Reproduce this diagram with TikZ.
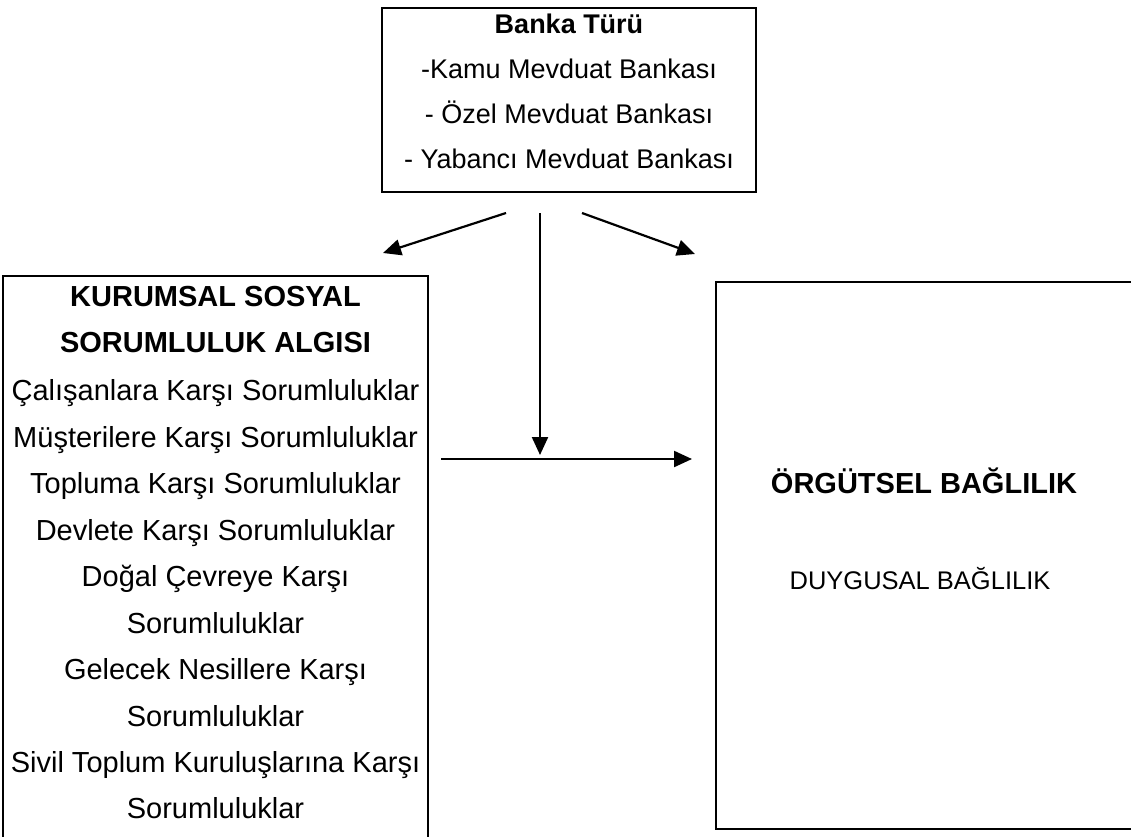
\documentclass[tikz,border=0pt]{standalone}
\usepackage{fontspec}
\setmainfont{Liberation Sans}
\usetikzlibrary{arrows.meta}
\tikzset{
  frame/.style={draw=black, line width=2.4pt, fill=none, inner sep=0pt},
  txt/.style={anchor=base, inner sep=0pt},
  boxA/.style={txt, font=\fontsize{27}{32}\selectfont},
  boxB/.style={txt, font=\fontsize{29}{34}\selectfont},
  link/.style={line width=2.2pt, -{Triangle[length=18pt,width=16pt]}},
}
\begin{document}
\begin{tikzpicture}[x=1pt,y=-1pt]
\useasboundingbox (0,0) rectangle (1131,836);

% boxes
\node[frame, minimum width=374pt, minimum height=184pt] (bank) at (569,100) {};
\node[frame, minimum width=425pt, minimum height=580pt] (ksr) at (215.5,566) {};
\node[frame, minimum width=420pt, minimum height=547pt] (org) at (926,555.5) {};

% bank type box
\node[boxA, font=\bfseries\fontsize{27}{32}\selectfont] (b0) at (569,33) {Banka Türü};
\node[boxA] (b1) at (569,78) {-Kamu Mevduat Bankası};
\node[boxA] (b2) at (569,123) {- Özel Mevduat Bankası};
\node[boxA] (b3) at (569,168) {- Yabancı Mevduat Bankası};

% CSR perception box
\foreach \t [count=\i from 0] in {
  {Çalışanlara Karşı Sorumluluklar},
  {Müşterilere Karşı Sorumluluklar},
  {Topluma Karşı Sorumluluklar},
  {Devlete Karşı Sorumluluklar},
  {Doğal Çevreye Karşı},
  {Sorumluluklar},
  {Gelecek Nesillere Karşı},
  {Sorumluluklar},
  {Sivil Toplum Kuruluşlarına Karşı},
  {Sorumluluklar}}
  \node[boxB] (k\i) at (215.5,{400.9+46.45*\i}) {\t};
\node[boxB, font=\bfseries\fontsize{29}{34}\selectfont] (kh1) at (215.5,306) {KURUMSAL SOSYAL};
\node[boxB, font=\bfseries\fontsize{29}{34}\selectfont] (kh2) at (215.5,352.5) {SORUMLULUK ALGISI};

% organisational commitment box
\node[boxB, font=\bfseries\fontsize{29}{34}\selectfont] (oh) at (924,493) {ÖRGÜTSEL BAĞLILIK};
\node[txt, font=\fontsize{25.5}{30}\selectfont] (od) at (920,589) {DUYGUSAL BAĞLILIK};

% connector ends
\coordinate (s1) at (506,213);
\coordinate (e1) at (383,253);
\coordinate (s2) at (540,213);
\coordinate (e2) at (540,455);
\coordinate (s3) at (582,213);
\coordinate (e3) at (695,254);
\coordinate (s4) at (441,459);
\coordinate (e4) at (692,459);

\draw[link] (s1) -- (e1);
\draw[link] (s2) -- (e2);
\draw[link] (s3) -- (e3);
\draw[link] (s4) -- (e4);
\end{tikzpicture}
\end{document}
